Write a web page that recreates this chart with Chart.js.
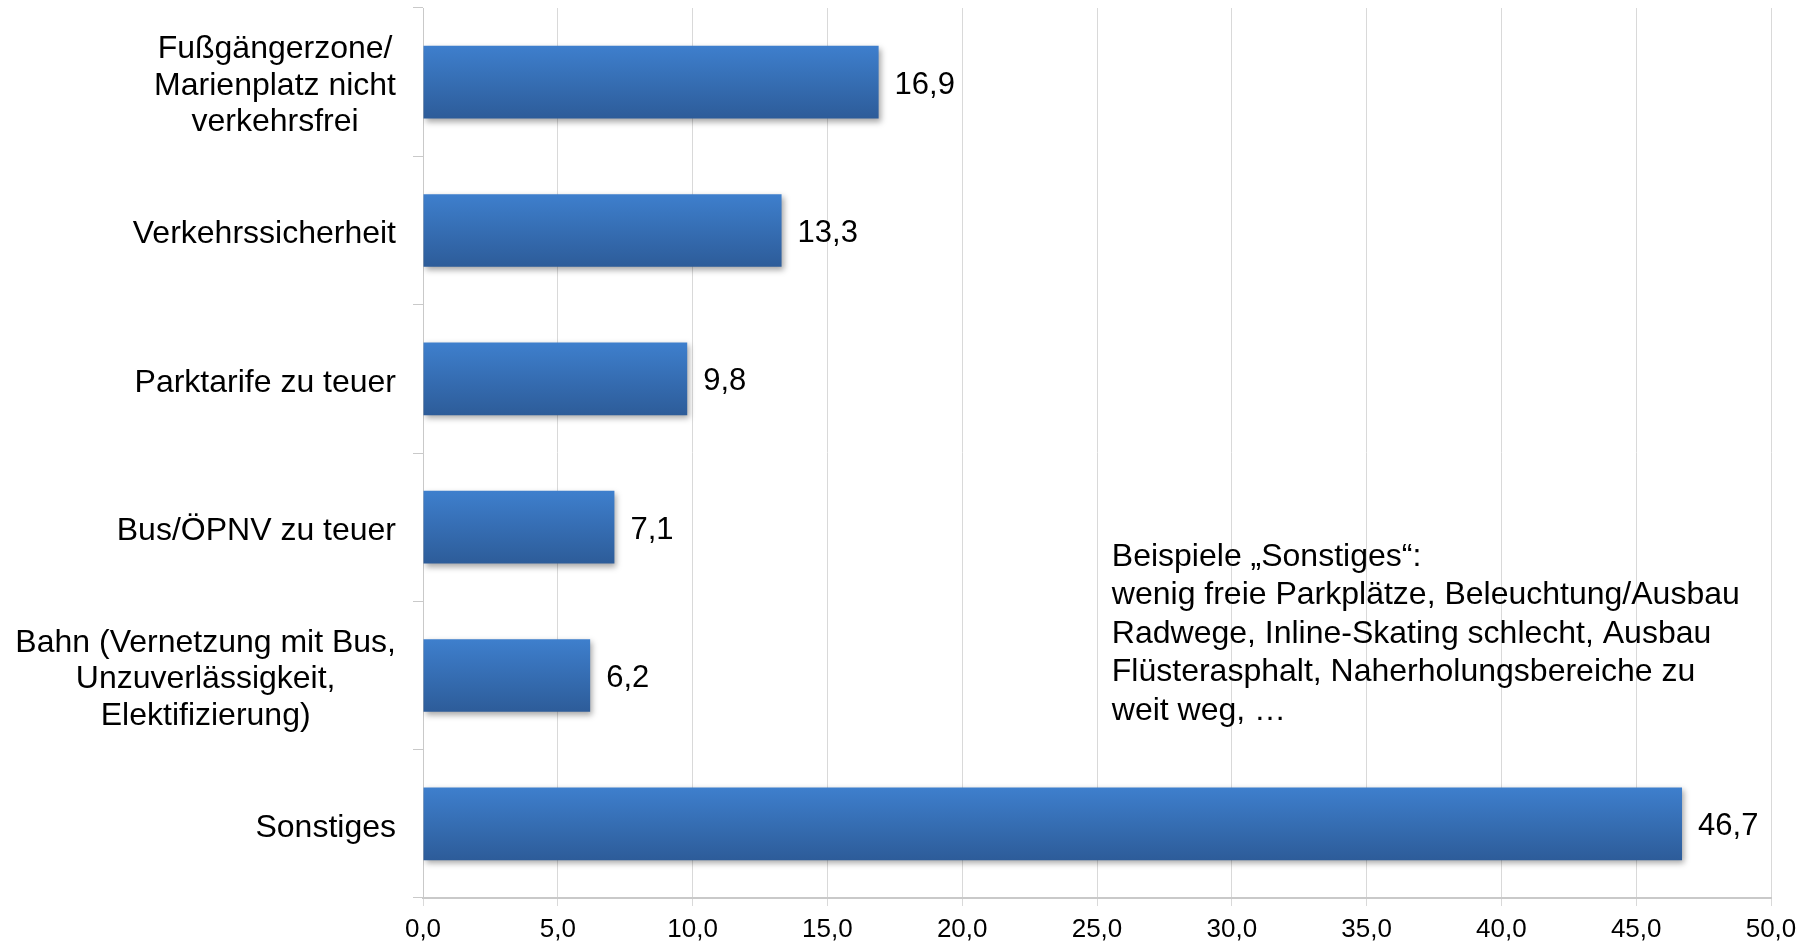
<!DOCTYPE html>
<html>
<head>
<meta charset="utf-8">
<script src="https://cdn.jsdelivr.net/npm/chart.js@4"></script>
<style>
  html, body { margin: 0; padding: 0; background: #fff; }
  #wrap { width: 1808px; height: 943px; position: relative; }
</style>
</head>
<body>
<div id="wrap"><canvas id="chart"></canvas></div>
<script>
// categories (multi-line labels), values in percent
const categories = [
    ['Fußgängerzone/', 'Marienplatz nicht', 'verkehrsfrei'],
    ['Verkehrssicherheit'],
    ['Parktarife zu teuer'],
    ['Bus/ÖPNV zu teuer'],
    ['Bahn (Vernetzung mit Bus,', 'Unzuverlässigkeit,', 'Elektifizierung)'],
    ['Sonstiges']
];
const values = [16.9, 13.3, 9.8, 7.1, 6.2, 46.7];
const xTicks = [0, 5, 10, 15, 20, 25, 30, 35, 40, 45, 50];
const noteLines = [
    'Beispiele „Sonstiges“:',
    'wenig freie Parkplätze, Beleuchtung/Ausbau',
    'Radwege, Inline-Skating schlecht, Ausbau',
    'Flüsterasphalt, Naherholungsbereiche zu',
    'weit weg, …'
];

const FONT = '"Liberation Sans", Arial, sans-serif';
const fmt = v => v.toFixed(1).replace('.', ',');

// gradient + shadow for the bars
const barStyle = {
    id: 'barStyle',
    beforeDatasetsDraw(chart) {
        const ctx = chart.ctx;
        chart.getDatasetMeta(0).data.forEach(el => {
            const h = el.height / 2;
            const g = ctx.createLinearGradient(0, el.y - h, 0, el.y + h);
            g.addColorStop(0, '#3e7fcd');
            g.addColorStop(1, '#2d5c99');
            el.options = Object.assign({}, el.options, { backgroundColor: g });
        });
        ctx.save();
        ctx.shadowColor = 'rgba(0,0,0,0.35)';
        ctx.shadowBlur = 6;
        ctx.shadowOffsetX = 2;
        ctx.shadowOffsetY = 3;
    },
    afterDatasetsDraw(chart) {
        chart.ctx.restore();
    }
};

// value labels, category labels (block right aligned, lines centred) and note
const textLayer = {
    id: 'textLayer',
    afterDraw(chart) {
        const ctx = chart.ctx;
        const y = chart.scales.y;
        const area = chart.chartArea;
        ctx.save();
        ctx.fillStyle = '#000';

        // values
        ctx.font = '31px ' + FONT;
        ctx.textAlign = 'left';
        ctx.textBaseline = 'middle';
        chart.getDatasetMeta(0).data.forEach((el, i) => {
            ctx.fillText(fmt(values[i]), el.x + 16, el.y + 3);
        });

        // category labels
        ctx.font = '32px ' + FONT;
        ctx.textAlign = 'center';
        const lineH = 36.5;
        const right = area.left - 27;
        categories.forEach((lines, i) => {
            const w = Math.max(...lines.map(l => ctx.measureText(l).width));
            const cx = right - w / 2;
            const cy = y.getPixelForTick(i);
            lines.forEach((l, k) => {
                ctx.fillText(l, cx, cy + (k - (lines.length - 1) / 2) * lineH + 4);
            });
        });

        // note
        ctx.textAlign = 'left';
        const nx = chart.scales.x.getPixelForValue(25.55);
        const ny = area.top + area.height * 0.617;
        noteLines.forEach((l, k) => {
            ctx.fillText(l, nx, ny + k * 38.4);
        });
        ctx.restore();
    }
};

new Chart(document.getElementById('chart'), {
    type: 'bar',
    data: {
        labels: categories,
        datasets: [{
            data: values,
            backgroundColor: '#3670b8',
            borderWidth: 0,
            categoryPercentage: 0.49,
            barPercentage: 1
        }]
    },
    options: {
        indexAxis: 'y',
        responsive: true,
        maintainAspectRatio: false,
        animation: false,
        layout: { padding: { top: 8, right: 37, left: 0, bottom: 0 } },
        plugins: {
            legend: { display: false },
            tooltip: { enabled: false }
        },
        scales: {
            x: {
                min: xTicks[0],
                max: xTicks[xTicks.length - 1],
                afterBuildTicks: s => { s.ticks = xTicks.map(v => ({ value: v })); },
                afterFit: s => { s.height = 45; },
                grid: { color: '#d9d9d9', lineWidth: 1, tickLength: 8 },
                border: { color: '#c9c9c9', width: 2 },
                ticks: {
                    color: '#000',
                    padding: 8,
                    font: { family: FONT, size: 26 },
                    callback: v => fmt(v)
                }
            },
            y: {
                afterFit: s => { s.width = 423; },
                grid: { drawOnChartArea: false, tickLength: 10, color: '#c9c9c9' },
                border: { color: '#c9c9c9', width: 1 },
                ticks: { display: false }
            }
        }
    },
    plugins: [barStyle, textLayer]
});
</script>
</body>
</html>
